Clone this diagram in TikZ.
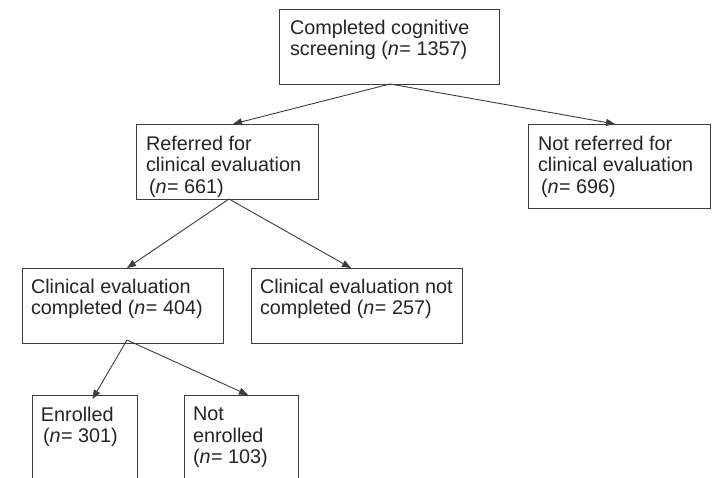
\documentclass[tikz,border=0pt]{standalone}
\usepackage{fontspec}
\setmainfont{Liberation Sans}
\usetikzlibrary{arrows.meta}
\definecolor{ink}{HTML}{262324}
\definecolor{edge}{HTML}{3C3C3C}
\tikzset{
  box/.style={draw=edge, line width=0.9pt, rectangle, inner sep=0pt, outer sep=0pt},
  txt/.style={anchor=north west, inner sep=0pt, outer sep=0pt, align=left, text=ink,
              font=\fontsize{19.8}{21.5}\selectfont},
  conn/.style={draw=edge, line width=0.9pt, -{Triangle[length=9pt,width=7pt]}}
}
\newcommand{\nn}{\textit{n}\kern0.5pt=}
\begin{document}
\begin{tikzpicture}[x=1pt, y=-1pt]
\useasboundingbox (0,0) rectangle (716,478);
\fill[white] (0,0) rectangle (716,478);
\clip (0,0) rectangle (716,478);

% boxes
\node[box, minimum width=220pt, minimum height=75pt] (top) at (389,46.5) {};
\node[box, minimum width=182pt, minimum height=75pt] (ref) at (227,161.5) {};
\node[box, minimum width=182pt, minimum height=84pt] (nref) at (619,166) {};
\node[box, minimum width=201pt, minimum height=75pt] (cc) at (122.5,305.5) {};
\node[box, minimum width=211pt, minimum height=75pt] (cn) at (356.5,305.5) {};
\node[box, minimum width=105pt, minimum height=105pt] (enr) at (84.5,447.5) {};
\node[box, minimum width=114pt, minimum height=105pt] (nenr) at (241,447.5) {};

% texts
\node[txt] (ttop) at (290,20) {Completed cognitive\\screening (\nn\ 1357)};
\node[txt] (tref) at (146,136) {Referred for\\clinical evaluation\\\hspace*{3pt}(\nn\ 661)};
\node[txt] (tnref) at (538,136) {Not referred for\\clinical evaluation\\\hspace*{3pt}(\nn\ 696)};
\node[txt] (tcc) at (31,279) {Clinical evaluation\\completed (\nn\ 404)};
\node[txt] (tcn) at (260,279) {Clinical evaluation not\\completed (\nn\ 257)};
\node[txt] (tenr) at (41,407) {Enrolled\\\hspace*{2pt}(\nn\ 301)};
\node[txt] (tnenr) at (193,407) {Not\\enrolled\\(\nn\ 103)};

% connectors
\draw[conn] ([xshift=1pt]top.south) -- ([xshift=6pt]ref.north);
\draw[conn] ([xshift=1pt]top.south) -- ([xshift=-4pt]nref.north);
\draw[conn] ([xshift=2pt]ref.south) -- ([xshift=4.5pt]cc.north);
\draw[conn] ([xshift=2pt]ref.south) -- ([xshift=-5.5pt]cn.north);
\draw[conn] ([xshift=4.5pt,yshift=3pt]cc.south) -- ([xshift=8pt,yshift=-4pt]enr.north);
\draw[conn] ([xshift=4.5pt,yshift=3pt]cc.south) -- ([xshift=7pt]nenr.north);
\end{tikzpicture}
\end{document}
